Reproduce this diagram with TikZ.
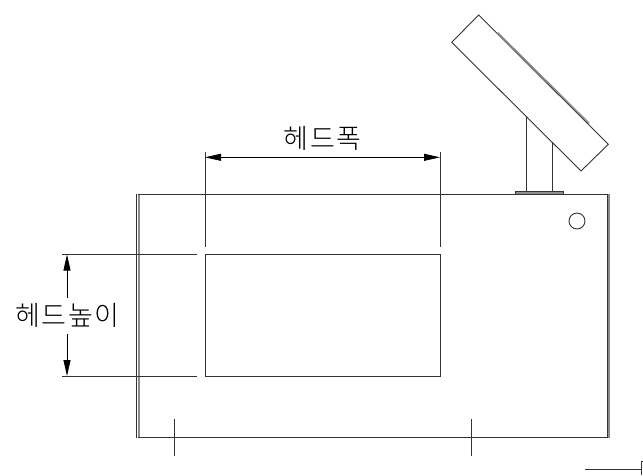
\documentclass[tikz,border=0pt]{standalone}
\usepackage{fontspec}
\usetikzlibrary{arrows.meta}
\newfontfamily\krfont[LetterSpace=6]{Noto Sans CJK KR Light}
\definecolor{darkline}{gray}{0.2}
\definecolor{greystripe}{gray}{0.55}
\tikzset{
  px/.style={x=1pt,y=-1pt},
  outline/.style={draw=darkline,line width=0.9pt},
  stripe/.style={draw=greystripe,line width=2.2pt},
  dim/.style={draw=black,line width=0.8pt,{Triangle[length=16pt,width=7pt]}-{Triangle[length=16pt,width=7pt]}},
  dimend/.style={draw=black,line width=0.8pt,-{Triangle[length=16pt,width=7pt]}},
  ext/.style={draw=darkline,line width=0.9pt},
  label/.style={font=\krfont\fontsize{27pt}{27pt}\selectfont,inner sep=0pt,text=black},
}
\begin{document}
\begin{tikzpicture}[px]
\useasboundingbox (0,0) rectangle (643,475);
% monitor
\draw[outline,line join=miter] (478.7,15) -- (451.7,42.3) -- (581,171) -- (608.3,144.3) -- cycle;
\draw[draw=greystripe,line width=1.6pt] (497.7,32.7) -- (589,123.3);
\draw[outline] (526.7,116.7) -- (526.7,192);
\draw[outline] (552.3,142.3) -- (552.3,192);
\draw[draw=darkline,fill=greystripe,line width=0.6pt] (515,191.3) rectangle (563.7,194);
% body
\draw[stripe] (609.2,194) -- (609.2,437.5);
\draw[stripe,line width=1.6pt] (138.8,194) -- (138.8,437.5);
\draw[outline] (136.7,194) -- (136.7,437.7);
\draw[outline] (138,194) -- (607.7,194) -- (607.7,437) -- (138,437);
\draw[outline] (577,221) circle (8);
% head
\draw[outline] (205,254.5) rectangle (440,376);
% ticks
\draw[ext] (174.7,419) -- (174.7,455.7);
\draw[ext] (471,419) -- (471,455.7);
% extension lines
\draw[ext] (205,152) -- (205,246.7);
\draw[ext] (440,152) -- (440,246.7);
\draw[ext] (62,254.5) -- (196.7,254.5);
\draw[ext] (62,376) -- (196.7,376);
% dimensions
\coordinate (wl) at (205,157.3);
\coordinate (wr) at (440,157.3);
\coordinate (ht) at (67,254.5);
\coordinate (hb) at (67,376);
\draw[dim] (wl) -- (wr);
\node[label] (wlabel) at (322.5,138.5) {헤드폭};
\node[label] (hlabel) at (67.5,315.5) {헤드높이};
\draw[dimend] (67,297.7) -- (ht);
\draw[dimend] (67,334) -- (hb);
% corner fragment
\draw[ext] (585,469.5) -- (641.7,469.5);
\draw[ext] (641.7,475) -- (641.7,461) -- (643,461);
\end{tikzpicture}
\end{document}
